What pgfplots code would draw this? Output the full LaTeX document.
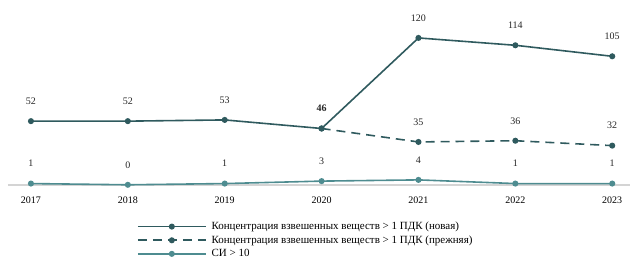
\documentclass[border=0pt]{standalone}
\usepackage{fontspec}
\setmainfont{Liberation Serif}
\usepackage{pgfplots}
\pgfplotsset{compat=1.18}
\definecolor{dark}{HTML}{2F5A5E}
\definecolor{light}{HTML}{4E8C90}
\definecolor{base}{HTML}{D4D4D4}
\begin{document}
\begin{tikzpicture}
\begin{axis}[
  scale only axis,
  width=623pt, height=185pt,
  xmin=2016.763, xmax=2023.186,
  ymin=0, ymax=151,
  axis y line=none,
  axis x line*=bottom,
  x axis line style={base, line width=1.5pt, -},
  xtick={2017,...,2023},
  xticklabel style={/pgf/number format/1000 sep={}, font=\fontsize{10}{11}\selectfont, yshift=-9pt},
  major tick length=0pt,
  /pgf/number format/assume math mode=true,
  /pgf/number format/1000 sep={},
  clip=false,
  every node near coord/.append style={anchor=center, yshift=20pt, font=\fontsize{10}{11}\selectfont, text=black!85},
  legend style={at={(0.2071,-0.195)}, anchor=north west, draw=none, fill=none,
    font=\fontsize{11}{12}\selectfont, row sep=2.6pt, inner sep=0pt,
    nodes={inner xsep=5pt, inner ysep=1pt}},
  legend cell align=left,
  legend image code/.code={\draw[mark repeat=2,mark phase=2,#1] plot coordinates {(0pt,0pt) (34pt,0pt) (68pt,0pt)};},
]
\addplot[dark, line width=1.6pt, mark=*, mark size=2.2pt, nodes near coords,
  point meta=explicit symbolic]
  coordinates {(2017,52)[52] (2018,52)[52] (2019,53)[53] (2020,46)[\textbf{46}] (2021,120)[120] (2022,114)[114] (2023,105)[105]};
\addlegendentry{Концентрация взвешенных веществ > 1 ПДК (новая)}
\addplot[dark, line width=1.6pt, dash pattern=on 9pt off 6pt, mark=*, mark size=2.2pt, mark options={solid},
  nodes near coords, point meta=explicit symbolic]
  coordinates {(2020,46)[] (2021,35)[35] (2022,36)[36] (2023,32)[32]};
\addlegendentry{Концентрация взвешенных веществ > 1 ПДК (прежняя)}
\addplot[light, line width=1.6pt, mark=*, mark size=2.2pt, nodes near coords, point meta=explicit symbolic]
  coordinates {(2017,1)[1] (2018,0)[0] (2019,1)[1] (2020,3)[3] (2021,4)[4] (2022,1)[1] (2023,1)[1]};
\addlegendentry{СИ > 10}
\path[use as bounding box] (rel axis cs:-0.01284,-0.3892) rectangle (rel axis cs:1,1);
\end{axis}
\end{tikzpicture}
\end{document}
